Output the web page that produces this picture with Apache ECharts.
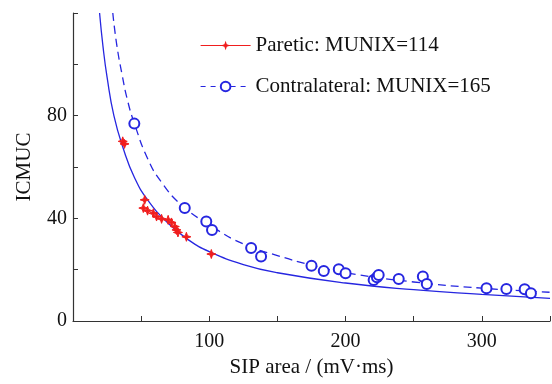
<!DOCTYPE html>
<html><head><meta charset="utf-8">
<script src="https://cdn.jsdelivr.net/npm/echarts@6/dist/echarts.min.js"></script>
<style>html,body{margin:0;padding:0;background:#fff}#c{width:552px;height:384px}</style>
</head><body><div id="c"></div>
<script>
// Paretic measured points [SIP area, ICMUC]
const pareticPts = [[36.5,70],[37.8,69],[51.6,44],[52.6,47.2],[54.7,43],[58.9,42],[61.3,40.7],[65,39.8],[69.8,39.4],[72.3,38.4],[74.7,36.8],[75.9,35.5],[77,34.5],[83.2,32.8],[101.5,26.1]];
// Contralateral measured points
const contraPts = [[45,76.9],[82,44],[97.8,38.8],[102,35.5],[130.7,28.4],[138,25.1],[175,21.5],[184,19.5],[195,20.2],[200,18.6],[220.6,16],[223,17],[224.3,17.9],[239,16.4],[256.7,17.3],[259.6,14.4],[303.4,12.8],[318,12.5],[331.4,12.4],[336,10.8]];
// Fitted curves
const pareticFit = [[19.5,120],[22,107],[25,95],[30,80],[37,67],[45,56],[55,47],[70,38],[85,31.5],[100,27],[125,22],[150,18.8],[200,14.8],[250,12.2],[300,10.4],[350,8.8]];
const contraFit = [[29.2,120],[32,108],[36,96],[40,86],[45,77],[55,63],[65,54],[80,45],[100,37.5],[125,30],[150,25.5],[175,21.8],[200,18.8],[250,15.2],[300,12.8],[350,11.2]];
const xTicks = [100,200,300];
const yTicks = [0,40,80];
const names = ['Paretic: MUNIX=114','Contralateral: MUNIX=165'];

const RED = '#f01e1e', BLUE = '#2626e0';
const FONT = 'Liberation Serif';
const star = 'path://M0,-10 L2.5,-2.5 L10,0 L2.5,2.5 L0,10 L-2.5,2.5 L-10,0 L-2.5,-2.5 Z';
const chart = echarts.init(document.getElementById('c'));
chart.setOption({
  animation:false,
  grid:{left:73,right:2,top:13,bottom:63,outerBoundsMode:'none',containLabel:false},
  legend:{
    orient:'vertical', left:195, top:30, itemGap:20, itemWidth:50, itemHeight:12,
    textStyle:{fontFamily:FONT,fontSize:21,color:'#111'},
    data:[
      {name:names[0], lineStyle:{opacity:1,width:1.2,color:RED,type:'solid'}},
      {name:names[1], lineStyle:{opacity:1,width:1.2,color:BLUE,type:[5,5]}}
    ]
  },
  xAxis:{type:'value',min:0,max:350,interval:50,
    name:'SIP area / (mV·ms)',nameLocation:'middle',nameGap:36,
    nameTextStyle:{fontFamily:FONT,fontSize:21,color:'#111'},
    axisLine:{lineStyle:{color:'#333',width:1.2}},
    axisTick:{inside:true,length:5,lineStyle:{color:'#333'}},
    axisLabel:{fontFamily:FONT,fontSize:20,color:'#111',margin:11,
      formatter:v=>xTicks.includes(v)?String(v):''},
    splitLine:{show:false}},
  yAxis:{type:'value',min:0,max:120,interval:20,
    name:'ICMUC',nameLocation:'middle',nameGap:38,
    nameTextStyle:{fontFamily:FONT,fontSize:21,color:'#111'},
    axisLine:{show:true,lineStyle:{color:'#333',width:1.2}},
    axisTick:{show:true,inside:true,length:5,lineStyle:{color:'#333'}},
    axisLabel:{fontFamily:FONT,fontSize:20,color:'#111',margin:6,
      formatter:v=>yTicks.includes(v)?String(v):''},
    splitLine:{show:false}},
  series:[
    {type:'line',data:pareticFit,smooth:true,symbol:'none',silent:true,
      lineStyle:{color:BLUE,width:1.3},z:1},
    {type:'line',data:contraFit,smooth:true,symbol:'none',silent:true,
      lineStyle:{color:BLUE,width:1.3,type:[8,5]},z:1},
    {name:names[0],type:'line',data:pareticPts,symbol:star,symbolSize:9,
      itemStyle:{color:RED,borderColor:RED},lineStyle:{opacity:0},z:3},
    {name:names[1],type:'line',data:contraPts,symbol:'emptyCircle',symbolSize:10,
      itemStyle:{color:BLUE,borderColor:BLUE,borderWidth:1.2},lineStyle:{opacity:0},z:2}
  ]
});
</script></body></html>
